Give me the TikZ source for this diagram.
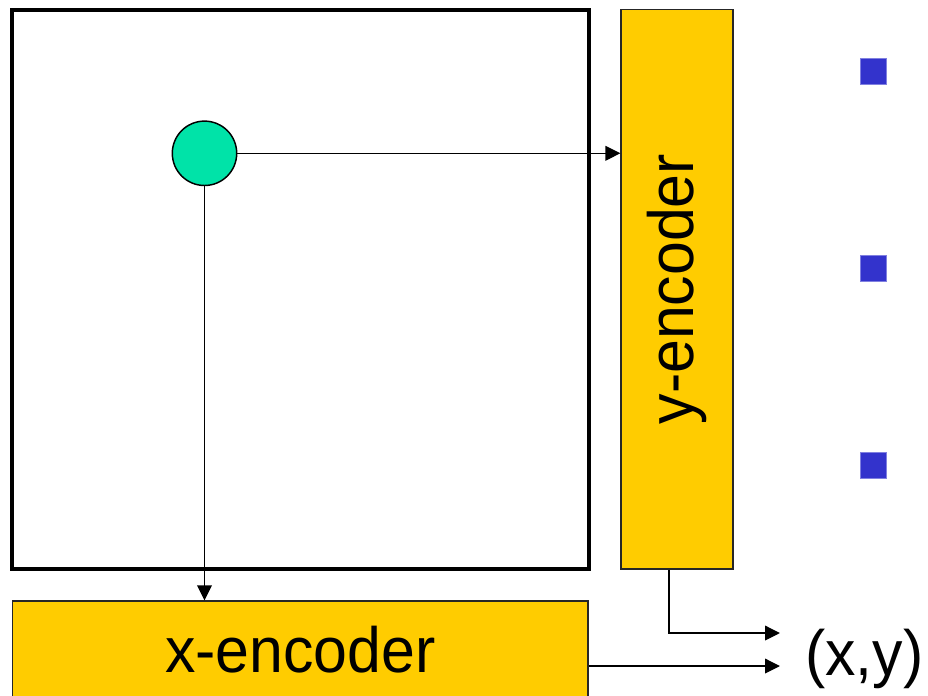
\documentclass[tikz,border=0pt]{standalone}
\usepackage{fontspec}
\newfontfamily\encfont{Liberation Sans}[FakeStretch=0.95]
\usetikzlibrary{arrows.meta}
\definecolor{encyellow}{HTML}{FFCC00}
\definecolor{dotgreen}{HTML}{00E3A8}
\definecolor{bulletblue}{HTML}{3333CC}
\definecolor{bulletedge}{HTML}{8080E0}
\tikzset{
  px/.style={x=0.75pt,y=-0.75pt},
  frame/.style={draw=black,line width=3pt,minimum width=432.4pt,minimum height=419.6pt,inner sep=0pt},
  encbox/.style={draw=black!85,line width=0.9pt,fill=encyellow,inner sep=0pt,
     font=\encfont\fontsize{48}{56}\selectfont},
  dotnode/.style={circle,draw=black,line width=1.1pt,fill=dotgreen,minimum size=48.3pt,inner sep=0pt},
  bullet/.style={rectangle,fill=bulletblue,draw=bulletedge,line width=0.6pt,minimum size=19.5pt,inner sep=0pt},
  conn/.style={draw=black,line width=1pt,-{Triangle[length=11.25pt,width=11pt]}},
  outtext/.style={inner sep=0pt,font=\encfont\fontsize{48}{56}\selectfont}
}
\begin{document}
\begin{tikzpicture}[px]
\useasboundingbox (0,0) rectangle (928,696);
\clip (0,0) rectangle (928,696);
\fill[white] (0,0) rectangle (928,696);
\node[frame] (sq) at (300.75,289.25) {};
\node[encbox,minimum width=84pt,minimum height=419.8pt] (yenc) at (677,289.2) {\rotatebox{90}{y-encoder}};
\node[encbox,minimum width=431.6pt,minimum height=73.5pt] (xenc) at (300.3,650) {x-encoder};
\node[dotnode] (dot) at (204.5,153.3) {};
\node[bullet] (b1) at (873.3,71.3) {};
\node[bullet] (b2) at (873.3,268) {};
\node[bullet] (b3) at (873.3,465.3) {};
\node[outtext,anchor=base west] (xy) at (805,675) {(x,y)};
\coordinate (c1) at (780,633);
\coordinate (c2) at (780,666);
\draw[conn] (dot.east) -- (dot.east -| yenc.west);
\draw[conn] (dot.south) -- (dot.south |- xenc.north);
\draw[conn] ([xshift=-6pt]yenc.south) |- (c1);
\draw[conn] (xenc.east |- c2) -- (c2);
\end{tikzpicture}
\end{document}
